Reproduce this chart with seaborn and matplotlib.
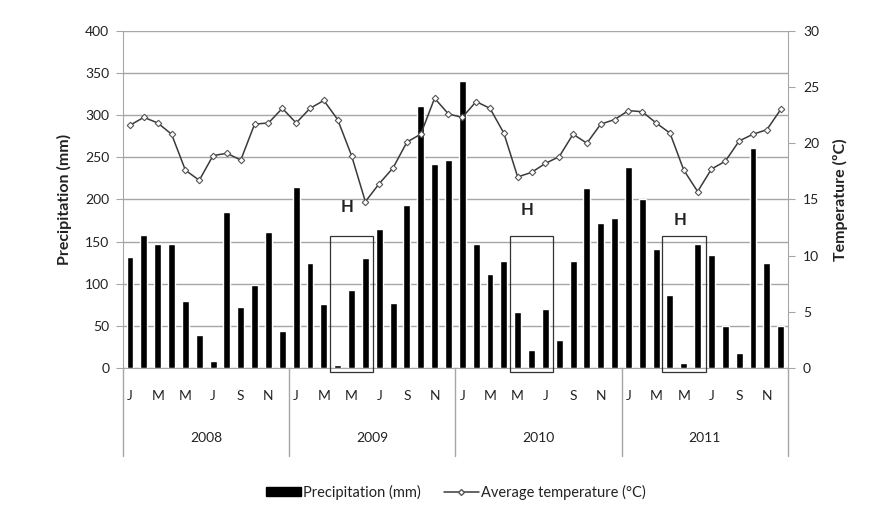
import numpy as np
import pandas as pd
import matplotlib
matplotlib.use("Agg")
import matplotlib.pyplot as plt
import matplotlib.transforms as mtransforms
from matplotlib.patches import Rectangle, Patch
from matplotlib.lines import Line2D
import seaborn as sns

# data
years = [2008, 2009, 2010, 2011]
month_letters = ["J", "F", "M", "A", "M", "J", "J", "A", "S", "O", "N", "D"]
precip_2008 = [132, 158, 147, 147, 80, 39, 8, 185, 72, 98, 161, 44]
precip_2009 = [215, 125, 76, 4, 92, 130, 165, 77, 193, 311, 242, 247]
precip_2010 = [340, 147, 112, 127, 67, 21, 70, 33, 127, 214, 172, 178]
precip_2011 = [239, 200, 141, 86, 6, 147, 134, 50, 18, 261, 124, 50]
temp_2008 = [21.6, 22.3, 21.8, 20.8, 17.6, 16.7, 18.9, 19.1, 18.5, 21.7, 21.8, 23.1]
temp_2009 = [21.8, 23.1, 23.8, 22.1, 18.9, 14.8, 16.4, 17.8, 20.1, 20.8, 24.0, 22.6]
temp_2010 = [22.3, 23.7, 23.1, 20.9, 17.0, 17.4, 18.2, 18.8, 20.8, 20.0, 21.7, 22.1]
temp_2011 = [22.9, 22.8, 21.8, 20.9, 17.6, 15.7, 17.7, 18.4, 20.2, 20.8, 21.2, 23.0]
# "H" boxes: (first bar, last bar, top of box in mm, label height in mm)
h_boxes = [(15, 17, 157, 191), (28, 30, 157, 188), (39, 41, 156, 176)]

precip = precip_2008 + precip_2009 + precip_2010 + precip_2011
temp = temp_2008 + temp_2009 + temp_2010 + temp_2011
n = len(precip)
df = pd.DataFrame({"idx": np.arange(n), "precip": precip, "temp": temp})

sns.set_style("white")
plt.rcParams["font.family"] = ["Lato", "DejaVu Sans"]
txt_col = "#222222"
grid_col = "#a6a6a6"

fig = plt.figure(figsize=(8.92, 5.31), dpi=100)
ax = fig.add_axes([0.138, 0.307, 0.745, 0.635])

sns.barplot(data=df, x="idx", y="precip", color="black", width=0.5,
            saturation=1, ax=ax, zorder=3)
ax.set_ylim(0, 400)
ax.set_yticks(np.arange(0, 401, 50))
ax.set_xlim(-0.5, n - 0.5)
ax.yaxis.grid(True, color=grid_col, lw=1)
ax.set_axisbelow(True)

ax2 = ax.twinx()
ax2.plot(df["idx"], df["temp"], color="#3a3a3a", lw=1.1, marker="D",
         markersize=3.3, markerfacecolor="white", markeredgecolor="#555555",
         markeredgewidth=0.8, zorder=4)
ax2.set_ylim(0, 30)
ax2.set_yticks(np.arange(0, 31, 5))

for a in (ax, ax2):
    for s in a.spines.values():
        s.set_visible(False)
ax.spines["left"].set_visible(True)
ax.spines["left"].set_color(grid_col)
ax.spines["bottom"].set_visible(True)
ax.spines["bottom"].set_color(grid_col)
ax2.spines["right"].set_visible(True)
ax2.spines["right"].set_color(grid_col)

ax.tick_params(axis="y", left=True, length=5, color=grid_col,
               labelsize=10, pad=5, labelcolor=txt_col)
ax2.tick_params(axis="y", right=True, length=5, color=grid_col,
                labelsize=10, pad=6, labelcolor=txt_col)

ax.set_ylabel("Precipitation (mm)", fontsize=11.5, fontweight="bold",
              labelpad=9, color=txt_col)
ax2.set_ylabel("Temperature (ºC)", fontsize=11.5, fontweight="bold",
               labelpad=10, color=txt_col)

# month labels every other month
tick_pos = [i for i in range(n) if i % 2 == 0]
ax.set_xticks(tick_pos)
ax.set_xticklabels([month_letters[i % 12] for i in tick_pos], fontsize=10,
                   color=txt_col)
ax.tick_params(axis="x", bottom=False, pad=12)
ax.set_xlabel("")

# year labels and separators
trans = mtransforms.blended_transform_factory(ax.transData, ax.transAxes)
for k, yr in enumerate(years):
    ax.text(k * 12 + 5.5, -0.208, str(yr), transform=trans, ha="center",
            va="center", fontsize=10, color=txt_col)
for k in range(len(years) + 1):
    xb = k * 12 - 0.5
    ax.plot([xb, xb], [0, -0.26], transform=trans, color=grid_col, lw=1,
            clip_on=False)

# "H" boxes
for first, last, top, hy in h_boxes:
    ax.add_patch(Rectangle((first - 0.58, -4.5), last - first + 1.16, top + 4.5,
                           fill=False, edgecolor="#333333", lw=0.9,
                           zorder=5, clip_on=False))
    ax.text((first + last) / 2 - 0.3, hy, "H", ha="center", va="center",
            fontsize=12, fontweight="bold", color=txt_col)

handles = [Patch(facecolor="black", edgecolor="black"),
           Line2D([], [], color="#3a3a3a", lw=1.1, marker="D", markersize=3,
                  markerfacecolor="white", markeredgecolor="#555555")]
fig.legend(handles, ["Precipitation (mm)", "Average temperature (°C)"],
           loc="center", bbox_to_anchor=(0.511, 0.073), ncol=2, frameon=False,
           fontsize=10.5, handlelength=2.4, handleheight=0.5,
           handletextpad=0.15, columnspacing=1.6, labelcolor=txt_col)

fig.savefig("out.png", dpi=100)
